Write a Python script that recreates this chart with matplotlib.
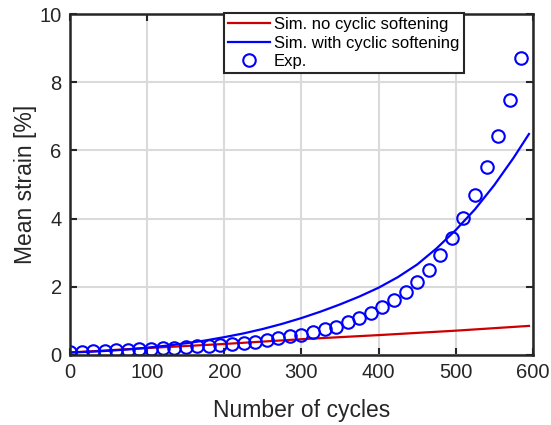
import matplotlib
matplotlib.use('Agg')
import matplotlib.pyplot as plt

# data
sim_no_x = [0, 100, 200, 300, 400, 500, 595]
sim_no_y = [0.07, 0.20, 0.32, 0.46, 0.58, 0.71, 0.85]

sim_with_x = [0, 25, 50, 75, 100, 125, 150, 175, 200, 225, 250, 275, 300,
              325, 350, 375, 400, 425, 450, 475, 500, 525, 550, 575, 595]
sim_with_y = [0.07, 0.09, 0.12, 0.16, 0.21, 0.27, 0.34, 0.42, 0.52, 0.63,
              0.76, 0.91, 1.08, 1.27, 1.48, 1.71, 1.97, 2.28, 2.65, 3.12,
              3.66, 4.27, 4.98, 5.78, 6.48]

exp_x = [0, 15, 30, 45, 60, 75, 90, 105, 120, 135, 150, 165, 180, 195, 210,
         225, 240, 255, 270, 285, 300, 315, 330, 345, 360, 375, 390, 405, 420,
         435, 450, 465, 480, 495, 510, 525, 540, 555, 570, 585]
exp_y = [0.07, 0.09, 0.10, 0.11, 0.13, 0.14, 0.16, 0.18, 0.19, 0.21, 0.23,
         0.25, 0.27, 0.29, 0.32, 0.34, 0.39, 0.44, 0.49, 0.54, 0.59, 0.67,
         0.75, 0.83, 0.95, 1.07, 1.22, 1.39, 1.60, 1.85, 2.15, 2.49, 2.92,
         3.43, 4.02, 4.70, 5.50, 6.42, 7.47, 8.70]

dark = '#262626'
plt.rcParams['font.family'] = ['Liberation Sans', 'DejaVu Sans']

fig = plt.figure(figsize=(5.51, 4.25), dpi=100)
ax = fig.add_axes([0.127, 0.165, 0.840, 0.802])

ax.plot(sim_no_x, sim_no_y, color='#cc0000', lw=1.6, label='Sim. no cyclic softening')
ax.plot(sim_with_x, sim_with_y, color='#0000ff', lw=1.6, label='Sim. with cyclic softening')
ax.plot(exp_x, exp_y, 'o', mfc='none', mec='#0000ff', ms=9, mew=1.5, label='Exp.')

ax.set_xlim(0, 600)
ax.set_ylim(0, 10)
ax.set_xticks(range(0, 601, 100))
ax.set_yticks(range(0, 11, 2))
ax.grid(True, color='#dadada', lw=1.5)
ax.set_axisbelow(True)
ax.tick_params(direction='in', length=5, width=1.5, colors=dark, labelsize=14.5,
               pad=6, top=True, right=True)
for s in ax.spines.values():
    s.set_linewidth(1.8)
    s.set_color(dark)

ax.set_xlabel('Number of cycles', fontsize=16.5, color=dark, labelpad=12)
ax.set_ylabel('Mean strain [%]', fontsize=16.5, color=dark, labelpad=2)

leg = ax.legend(loc='upper left', bbox_to_anchor=(0.333, 1.003), fontsize=12,
                fancybox=False, framealpha=1, edgecolor=dark, handlelength=2.5,
                handletextpad=0.25, borderpad=0.25, labelspacing=0.2,
                borderaxespad=0)
leg.get_frame().set_linewidth(1.5)

fig.savefig('out.png', dpi=100)
